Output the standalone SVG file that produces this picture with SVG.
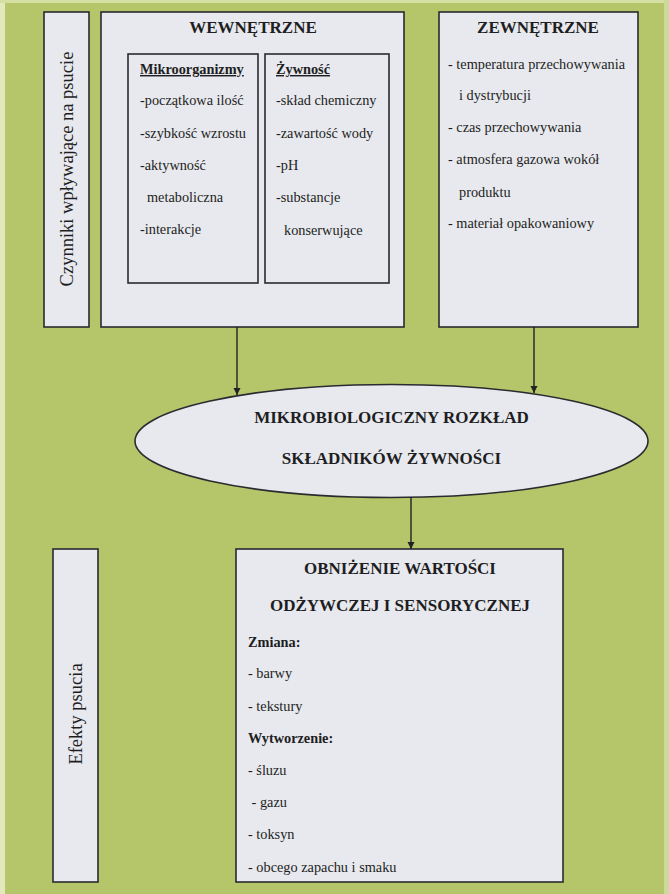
<svg xmlns="http://www.w3.org/2000/svg" width="669" height="894" viewBox="0 0 669 894">
<style>
text{font-family:"Liberation Serif","Times New Roman",Tinos,"DejaVu Serif",serif;fill:#1e1e22}
.box{fill:#e7e9ee;stroke:#2a2a30;stroke-width:1.6}
.h{font-size:17px;font-weight:bold;text-anchor:middle}
.b{font-size:14.3px}
.bb{font-size:14.3px;font-weight:bold}
.u{text-decoration:underline}
.side{font-size:18.5px}
.con{stroke:#222;stroke-width:1.4;fill:none}
</style>
<defs>
<marker id="ah" viewBox="0 0 10 10" refX="10" refY="5" markerWidth="7" markerHeight="8" markerUnits="userSpaceOnUse" orient="auto">
<path d="M0,0 L10,5 L0,10 z" fill="#222"/>
</marker>
</defs>
<rect width="669" height="894" fill="#b4c669"/>
<rect x="0" y="0" width="5" height="894" fill="#e3e8bd"/>
<rect x="0" y="0" width="669" height="3" fill="#d6dfa3"/>
<rect x="664" y="0" width="5" height="894" fill="#cdd89a"/>

<g id="czynniki">
<rect class="box" x="44" y="12" width="45" height="315"/>
<text class="side" transform="translate(73,169) rotate(-90)" text-anchor="middle">Czynniki wpływające na psucie</text>
</g>

<g id="wewnetrzne">
<rect class="box" x="101" y="12" width="303" height="315"/>
<text class="h" x="253" y="33">WEWNĘTRZNE</text>
</g>

<g id="mikroorganizmy">
<rect class="box" x="128" y="54" width="130" height="229"/>
<text class="bb u" x="140" y="74">Mikroorganizmy</text>
<text class="b" x="140" y="105">-początkowa ilość</text>
<text class="b" x="140" y="138">-szybkość wzrostu</text>
<text class="b" x="140" y="170">-aktywność</text>
<text class="b" x="147" y="202">metaboliczna</text>
<text class="b" x="140" y="234">-interakcje</text>
</g>

<g id="zywnosc">
<rect class="box" x="265" y="54" width="124" height="229"/>
<text class="bb u" x="276" y="74">Żywność</text>
<text class="b" x="276" y="105">-skład chemiczny</text>
<text class="b" x="276" y="138">-zawartość wody</text>
<text class="b" x="276" y="170">-pH</text>
<text class="b" x="276" y="202">-substancje</text>
<text class="b" x="284" y="235">konserwujące</text>
</g>

<g id="zewnetrzne">
<rect class="box" x="439" y="12" width="199" height="315"/>
<text class="h" x="538" y="33">ZEWNĘTRZNE</text>
<text class="b" x="448" y="69">- temperatura przechowywania</text>
<text class="b" x="459" y="100">i dystrybucji</text>
<text class="b" x="448" y="132">- czas przechowywania</text>
<text class="b" x="448" y="164">- atmosfera gazowa wokół</text>
<text class="b" x="459" y="197">produktu</text>
<text class="b" x="448" y="228">- materiał opakowaniowy</text>
</g>

<g id="rozklad">
<ellipse class="box" cx="391.5" cy="441" rx="256.5" ry="56.5"/>
<text class="h" x="391.5" y="423">MIKROBIOLOGICZNY ROZKŁAD</text>
<text class="h" x="391.5" y="464">SKŁADNIKÓW ŻYWNOŚCI</text>
</g>

<g id="efekty">
<rect class="box" x="53" y="549" width="45" height="333"/>
<text class="side" transform="translate(81.5,714) rotate(-90)" text-anchor="middle">Efekty psucia</text>
</g>

<g id="obnizenie">
<rect class="box" x="236" y="549" width="327" height="333"/>
<text class="h" x="400" y="574">OBNIŻENIE WARTOŚCI</text>
<text class="h" x="400" y="611">ODŻYWCZEJ I SENSORYCZNEJ</text>
<text class="bb" x="248" y="647">Zmiana:</text>
<text class="b" x="248" y="678">- barwy</text>
<text class="b" x="248" y="711">- tekstury</text>
<text class="bb" x="248" y="743">Wytworzenie:</text>
<text class="b" x="248" y="775">- śluzu</text>
<text class="b" x="248" y="807" xml:space="preserve"> - gazu</text>
<text class="b" x="248" y="839">- toksyn</text>
<text class="b" x="248" y="872">- obcego zapachu i smaku</text>
</g>

<g id="connectors">
<line class="con" x1="237" y1="327" x2="237" y2="395" marker-end="url(#ah)"/>
<line class="con" x1="534" y1="327" x2="534" y2="393" marker-end="url(#ah)"/>
<line class="con" x1="411" y1="497" x2="411" y2="549" marker-end="url(#ah)"/>
</g>
</svg>
